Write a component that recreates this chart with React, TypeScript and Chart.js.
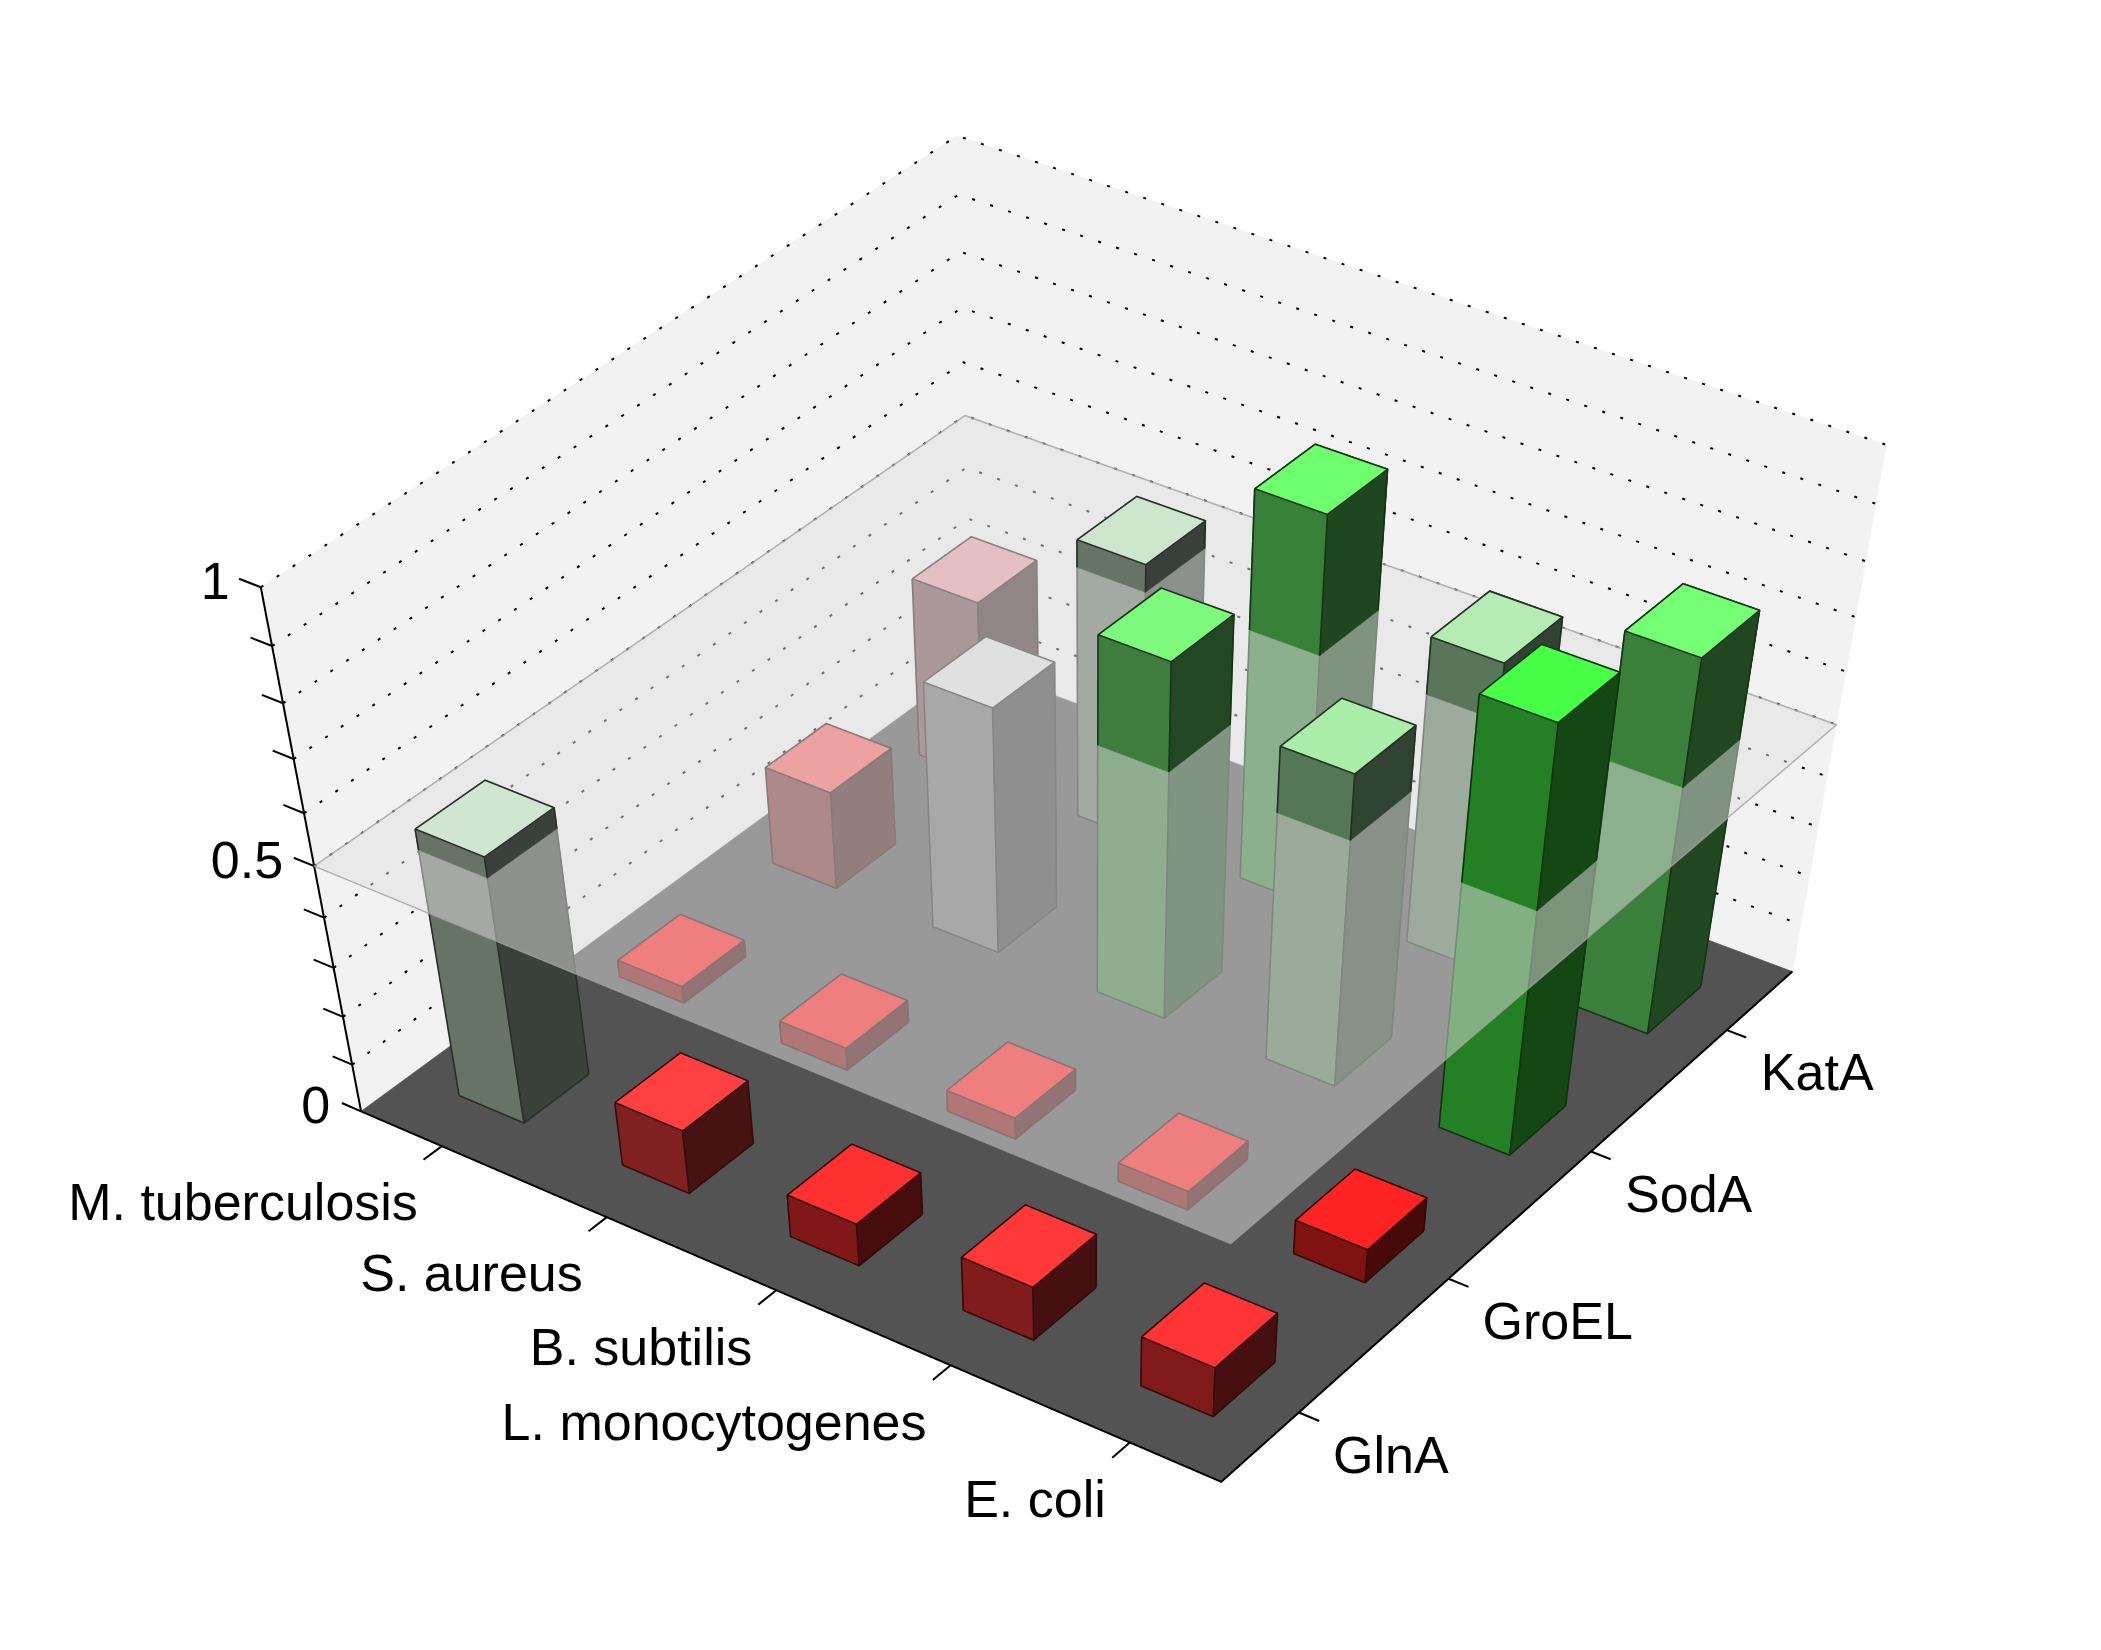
import { useEffect, useRef } from 'react';
import { Chart, ScatterController, LinearScale, PointElement } from 'chart.js';

Chart.register(ScatterController, LinearScale, PointElement);

const FIG_W = 2101;
const FIG_H = 1650;

const ORGANISMS = ['M. tuberculosis', 'S. aureus', 'B. subtilis', 'L. monocytogenes', 'E. coli'];
const PROTEINS = ['GlnA', 'GroEL', 'SodA', 'KatA'];

// level per organism (same order as ORGANISMS), one list per protein
const GLNA = [0.54, 0.134, 0.09, 0.115, 0.107];
const GROEL = [0.035, 0.047, 0.045, 0.04, 0.072];
const SODA = [0.2, 0.495, 0.705, 0.625, 0.845];
const KATA = [0.36, 0.552, 0.76, 0.608, 0.74];

const GLNA_COLORS = ['#d0e6d0', '#ff4040', '#ff3030', '#ff3838', '#ff3434'];
const GROEL_COLORS = ['#ff1e1e', '#ff1e1e', '#ff1e1e', '#ff1e1e', '#ff2424'];
const SODA_COLORS = ['#fa6464', '#e0e0e0', '#7dfa7d', '#aaeeaa', '#48ff48'];
const KATA_COLORS = ['#e8a0a8', '#cde6cd', '#6eff6e', '#b4ecb4', '#74ff74'];

const SERIES = [GLNA, GROEL, SODA, KATA];
const SERIES_COLORS = [GLNA_COLORS, GROEL_COLORS, SODA_COLORS, KATA_COLORS];

const Z_TICKS = [0, 0.1, 0.2, 0.3, 0.4, 0.5, 0.6, 0.7, 0.8, 0.9, 1];
const Z_GRID = [0.1, 0.2, 0.3, 0.4, 0.5, 0.6, 0.7, 0.8, 0.9, 1];
const Z_LABELS = [0, 0.5, 1];
const THRESHOLD = 0.5;

const BAR_WIDTH = 0.4;
const FONT = '52px "Liberation Sans", Arial, sans-serif';

// perspective camera: position, heading, tilt, focal length, principal point, z and y aspect
const VIEW = {
  cx: 13.86491,
  cy: -12.26903,
  cz: 0.32995,
  heading: 2.18513,
  tilt: 1.55746,
  focal: 119.42848,
  u0: 1088.14748,
  v0: 4910.56808,
  zAspect: 0.06946,
  yAspect: 1.24808,
};

function project(X: number, Y: number, Z: number) {
  const v = VIEW;
  const fx = Math.cos(v.tilt) * Math.cos(v.heading);
  const fy = Math.cos(v.tilt) * Math.sin(v.heading);
  const fz = -Math.sin(v.tilt);
  const rn = Math.hypot(fx, fy);
  const rx = fy / rn, ry = -fx / rn;
  const ux = ry * fz, uy = -rx * fz, uz = rx * fy - ry * fx;
  const dx = X - v.cx, dy = v.yAspect * Y - v.cy, dz = v.zAspect * Z - v.cz;
  const depth = dx * fx + dy * fy + dz * fz;
  const u = v.u0 + (v.focal * (dx * rx + dy * ry)) / depth;
  const w = v.v0 - (v.focal * (dx * ux + dy * uy + dz * uz)) / depth;
  return [u, w, depth];
}

function shade(hex: string, k: number) {
  const n = parseInt(hex.slice(1), 16);
  const r = (n >> 16) & 255, g = (n >> 8) & 255, b = n & 255;
  return `rgb(${Math.round(r * k)},${Math.round(g * k)},${Math.round(b * k)})`;
}

type V3 = [number, number, number];

const bars3dPlugin = {
  id: 'bars3d',
  afterDraw(chart: Chart) {
    const ctx = chart.ctx;
    const xs = chart.scales.x, ys = chart.scales.y;
    const P = (p: V3) => {
      const r = project(p[0], p[1], p[2]);
      return [xs.getPixelForValue(r[0]), ys.getPixelForValue(r[1])];
    };
    const path = (pts: V3[], close: boolean) => {
      ctx.beginPath();
      pts.forEach((p, i) => {
        const [x, y] = P(p);
        if (i) ctx.lineTo(x, y); else ctx.moveTo(x, y);
      });
      if (close) ctx.closePath();
    };
    const fillPoly = (pts: V3[], color: string) => {
      path(pts, true);
      ctx.fillStyle = color;
      ctx.fill();
      ctx.strokeStyle = color;
      ctx.lineWidth = 0.6;
      ctx.stroke();
    };
    const line = (pts: V3[], color: string, width: number, dash: number[] = []) => {
      ctx.setLineDash(dash);
      path(pts, false);
      ctx.strokeStyle = color;
      ctx.lineWidth = width;
      ctx.stroke();
      ctx.setLineDash([]);
    };

    const X0 = 0.5, X1 = ORGANISMS.length + 0.5;
    const Y0 = 0.5, Y1 = PROTEINS.length + 0.5;
    const ZT = Z_TICKS[Z_TICKS.length - 1];

    ctx.save();
    ctx.lineJoin = 'round';
    // back walls and floor
    fillPoly([[X0, Y0, 0], [X0, Y1, 0], [X0, Y1, ZT], [X0, Y0, ZT]], '#f2f2f2');
    fillPoly([[X0, Y1, 0], [X1, Y1, 0], [X1, Y1, ZT], [X0, Y1, ZT]], '#f2f2f2');
    fillPoly([[X0, Y0, 0], [X1, Y0, 0], [X1, Y1, 0], [X0, Y1, 0]], '#535353');
    // dotted grid on the walls
    Z_GRID.forEach((z) => line([[X0, Y0, z], [X0, Y1, z], [X1, Y1, z]], '#000', 2, [3, 16]));
    // axis lines and ticks
    line([[X0, Y0, 0], [X0, Y0, ZT]], '#000', 2);
    line([[X0, Y0, 0], [X1, Y0, 0], [X1, Y1, 0]], '#000', 2);
    Z_TICKS.forEach((z) => line([[X0, Y0, z], [X0 - 0.12, Y0, z]], '#000', 2));
    ORGANISMS.forEach((_, i) => line([[i + 1, Y0, 0], [i + 1, Y0 - 0.11, 0]], '#000', 2));
    PROTEINS.forEach((_, j) => line([[X1, j + 1, 0], [X1 + 0.11, j + 1, 0]], '#000', 2));

    // bars, painted back to front
    const bars: { X: number; Y: number; h: number; c: string; d: number }[] = [];
    SERIES.forEach((vals, j) => vals.forEach((h, i) => {
      bars.push({ X: i + 1, Y: j + 1, h, c: SERIES_COLORS[j][i], d: project(i + 1, j + 1, h / 2)[2] });
    }));
    bars.sort((a, b) => b.d - a.d);
    const drawBox = (b: typeof bars[number], z0: number, z1: number, bottom: boolean) => {
      const hw = BAR_WIDTH / 2;
      const x0 = b.X - hw, x1 = b.X + hw, y0 = b.Y - hw, y1 = b.Y + hw;
      const edge = shade(b.c, 0.2);
      fillPoly([[x0, y0, z0], [x1, y0, z0], [x1, y0, z1], [x0, y0, z1]], shade(b.c, 0.5));
      fillPoly([[x1, y0, z0], [x1, y1, z0], [x1, y1, z1], [x1, y0, z1]], shade(b.c, 0.28));
      fillPoly([[x0, y0, z1], [x1, y0, z1], [x1, y1, z1], [x0, y1, z1]], b.c);
      line([[x0, y0, z1], [x1, y0, z1], [x1, y1, z1], [x0, y1, z1], [x0, y0, z1]], edge, 1.6);
      line([[x0, y0, z0], [x0, y0, z1]], edge, 1.6);
      line([[x1, y0, z0], [x1, y0, z1]], edge, 1.6);
      line([[x1, y1, z0], [x1, y1, z1]], edge, 1.6);
      if (bottom) line([[x0, y0, z0], [x1, y0, z0], [x1, y1, z0]], edge, 1.6);
    };
    bars.forEach((b) => drawBox(b, 0, b.h, true));

    // translucent threshold plane
    path([[X0, Y0, THRESHOLD], [X1, Y0, THRESHOLD], [X1, Y1, THRESHOLD], [X0, Y1, THRESHOLD]], true);
    ctx.fillStyle = 'rgba(223,223,223,0.5)';
    ctx.fill();
    ctx.strokeStyle = 'rgba(160,160,160,0.8)';
    ctx.lineWidth = 1.5;
    ctx.stroke();

    // parts of bars rising above the plane
    bars.filter((b) => b.h > THRESHOLD).forEach((b) => drawBox(b, THRESHOLD, b.h, false));

    // tick labels
    ctx.fillStyle = '#000';
    ctx.font = FONT;
    ctx.textBaseline = 'middle';
    ctx.textAlign = 'right';
    Z_LABELS.forEach((z) => {
      const [x, y] = P([X0, Y0, z]);
      ctx.fillText(String(z), x - 31, y - 3);
    });
    ORGANISMS.forEach((name, i) => {
      const [x, y] = P([i + 1, Y0, 0]);
      ctx.fillText(name, x - 24, y + 60);
    });
    ctx.textAlign = 'left';
    PROTEINS.forEach((name, j) => {
      const [x, y] = P([X1, j + 1, 0]);
      ctx.fillText(name, x + 34, y + 46);
    });
    ctx.restore();
  },
};

export default function App() {
  const canvasRef = useRef<HTMLCanvasElement>(null);

  useEffect(() => {
    document.body.style.margin = '0';
    const canvas = canvasRef.current;
    if (!canvas) return;
    const chart = new Chart(canvas, {
      type: 'scatter',
      data: { datasets: [{ data: [] }] },
      options: {
        responsive: true,
        maintainAspectRatio: false,
        animation: false,
        events: [],
        layout: { padding: 0 },
        scales: {
          x: { type: 'linear', min: 0, max: FIG_W, display: false },
          y: { type: 'linear', min: 0, max: FIG_H, reverse: true, display: false },
        },
      },
      plugins: [bars3dPlugin],
    });
    return () => chart.destroy();
  }, []);

  return (
    <div style={{ width: FIG_W, height: FIG_H, position: 'relative', background: '#fff' }}>
      <canvas ref={canvasRef} />
    </div>
  );
}
